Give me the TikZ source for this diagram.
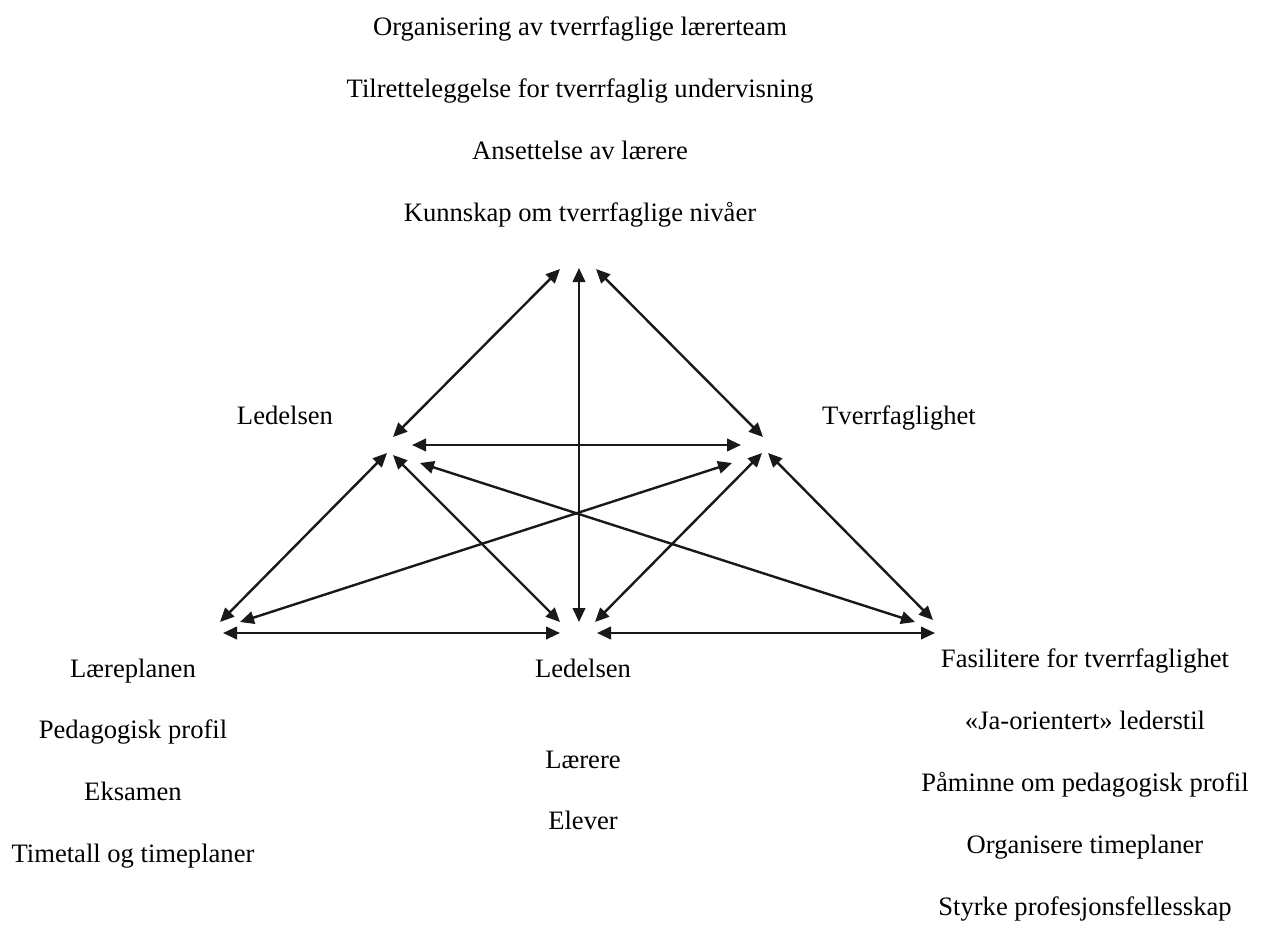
\documentclass[tikz,border=0pt]{standalone}
\usepackage{fontspec}
\setmainfont{Liberation Serif}
\usetikzlibrary{arrows.meta}
\begin{document}
\begin{tikzpicture}[x=1pt,y=-1pt,
  link/.style={{Triangle[length=14pt,width=12.5pt]}-{Triangle[length=14pt,width=12.5pt]},
    line width=2.4pt, draw=black!90},
  lbl/.style={font=\fontsize{26.6}{30}\selectfont, anchor=base, inner sep=0pt}]
\useasboundingbox (0,0) rectangle (1261,940);

% arrow end points around the six corners of the diagram
\coordinate (T-l) at (560,269);
\coordinate (T-c) at (579,268);
\coordinate (T-r) at (596,269);
\coordinate (L-t) at (393,437);
\coordinate (L-r) at (412,445);
\coordinate (L-bl) at (387,453);
\coordinate (L-bm) at (393,455);
\coordinate (L-br) at (420,463);
\coordinate (R-t) at (763,437);
\coordinate (R-l) at (741,445);
\coordinate (R-bl) at (732,463);
\coordinate (R-bm) at (762,453);
\coordinate (R-br) at (768,453);
\coordinate (BL-t) at (220,622);
\coordinate (BL-r) at (240,622);
\coordinate (BL-h) at (223,633);
\coordinate (BM-l) at (560,622);
\coordinate (BM-t) at (579,622);
\coordinate (BM-r) at (595,622);
\coordinate (BM-hl) at (560,633);
\coordinate (BM-hr) at (597,633);
\coordinate (BR-l) at (915,622);
\coordinate (BR-t) at (933,620);
\coordinate (BR-h) at (935,633);

% connectors
\draw[link] (T-l) -- (L-t);
\draw[link] (T-c) -- (BM-t);
\draw[link] (T-r) -- (R-t);
\draw[link] (L-r) -- (R-l);
\draw[link] (L-bl) -- (BL-t);
\draw[link] (L-bm) -- (BM-l);
\draw[link] (L-br) -- (BR-l);
\draw[link] (R-bl) -- (BL-r);
\draw[link] (R-bm) -- (BM-r);
\draw[link] (R-br) -- (BR-t);
\draw[link] (BL-h) -- (BM-hl);
\draw[link] (BM-hr) -- (BR-h);

% top list
\node[lbl] (t1) at (580,35) {Organisering av tverrfaglige lærerteam};
\node[lbl] (t2) at (580,97) {Tilretteleggelse for tverrfaglig undervisning};
\node[lbl] (t3) at (580,159) {Ansettelse av lærere};
\node[lbl] (t4) at (580,221) {Kunnskap om tverrfaglige nivåer};

% side labels
\node[lbl] (ll) at (285,424) {Ledelsen};
\node[lbl] (rl) at (899,424) {Tverrfaglighet};

% bottom left list
\node[lbl] (a1) at (133,677) {Læreplanen};
\node[lbl] (a2) at (133,738) {Pedagogisk profil};
\node[lbl] (a3) at (133,800) {Eksamen};
\node[lbl] (a4) at (133,862) {Timetall og timeplaner};

% bottom middle list
\node[lbl] (b1) at (583,677) {Ledelsen};
\node[lbl] (b2) at (583,768) {Lærere};
\node[lbl] (b3) at (583,829) {Elever};

% bottom right list
\node[lbl] (c1) at (1085,667) {Fasilitere for tverrfaglighet};
\node[lbl] (c2) at (1085,729) {«Ja-orientert» lederstil};
\node[lbl] (c3) at (1085,791) {Påminne om pedagogisk profil};
\node[lbl] (c4) at (1085,853) {Organisere timeplaner};
\node[lbl] (c5) at (1085,915) {Styrke profesjonsfellesskap};
\end{tikzpicture}
\end{document}
